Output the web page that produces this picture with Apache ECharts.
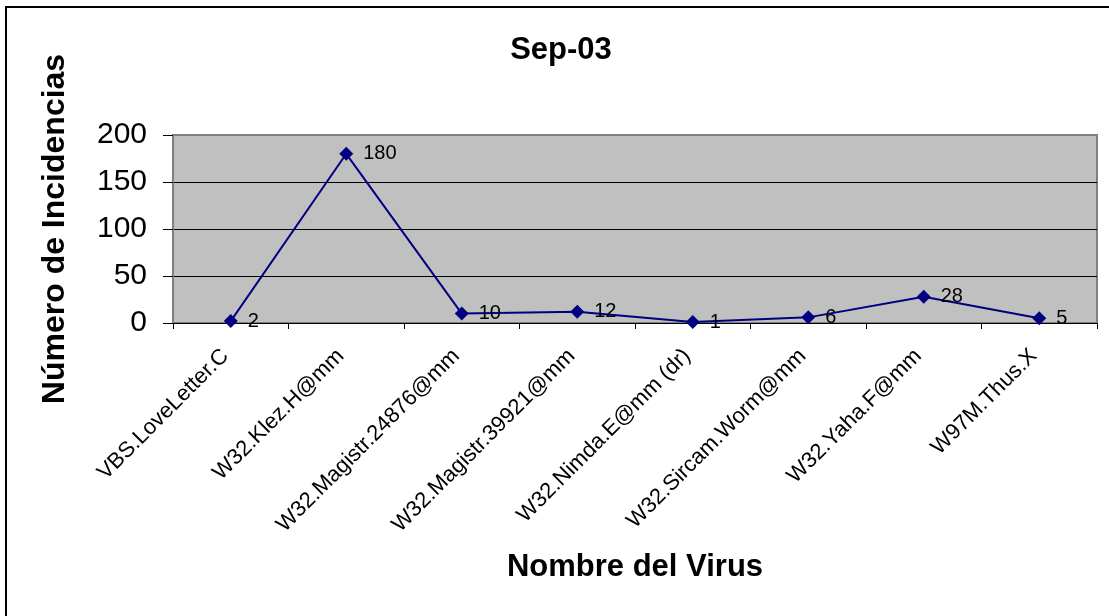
<!DOCTYPE html>
<html>
<head>
<meta charset="utf-8">
<script src="https://cdn.jsdelivr.net/npm/echarts@6/dist/echarts.min.js"></script>
<style>
  html, body { margin: 0; padding: 0; background: #ffffff; }
  #chart { width: 1109px; height: 616px; }
</style>
</head>
<body>
<div id="chart"></div>
<script>
// Incidencias por virus, septiembre 2003
const chartTitle = 'Sep-03';
const virusNames = [
  'VBS.LoveLetter.C',
  'W32.Klez.H@mm',
  'W32.Magistr.24876@mm',
  'W32.Magistr.39921@mm',
  'W32.Nimda.E@mm (dr)',
  'W32.Sircam.Worm@mm',
  'W32.Yaha.F@mm',
  'W97M.Thus.X'
];
const incidencias = [2, 180, 10, 12, 1, 6, 28, 5];
const yTicks = { min: 0, max: 200, interval: 50 };

const FONT = '"Liberation Sans", Arial, sans-serif';

const chart = echarts.init(document.getElementById('chart'), null, { renderer: 'canvas' });

chart.setOption({
  backgroundColor: '#ffffff',
  animation: false,
  title: {
    text: chartTitle,
    left: 556,
    top: 30,
    textAlign: 'center',
    textStyle: { fontFamily: FONT, fontSize: 31, fontWeight: 'bold', color: '#000000' }
  },
  graphic: [
    {
      type: 'rect',
      shape: { x: 6, y: 7, width: 1120, height: 630 },
      style: { fill: 'none', stroke: '#000000', lineWidth: 2 },
      silent: true,
      z: 100
    }
  ],
  grid: {
    left: 173,
    top: 135,
    right: 12,
    bottom: 293,
    show: true,
    backgroundColor: '#C0C0C0',
    borderColor: '#808080',
    borderWidth: 2
  },
  xAxis: {
    type: 'category',
    data: virusNames,
    boundaryGap: true,
    name: 'Nombre del Virus',
    nameLocation: 'middle',
    nameGap: 229,
    nameTextStyle: { fontFamily: FONT, fontSize: 31, fontWeight: 'bold', color: '#000000' },
    axisLine: { show: true, lineStyle: { color: '#000000', width: 1 } },
    axisTick: { show: true, inside: false, length: 6, alignWithLabel: false, lineStyle: { color: '#000000' } },
    axisLabel: {
      interval: 0,
      rotate: 45,
      margin: 24,
      padding: [0, 8, 0, 0],
      fontFamily: FONT,
      fontSize: 22,
      color: '#000000'
    },
    splitLine: { show: false }
  },
  yAxis: {
    type: 'value',
    min: yTicks.min,
    max: yTicks.max,
    interval: yTicks.interval,
    name: 'Número de Incidencias',
    nameLocation: 'middle',
    nameGap: 102,
    nameRotate: 90,
    nameTextStyle: { fontFamily: FONT, fontSize: 32, fontWeight: 'bold', color: '#000000' },
    axisLine: { show: true, lineStyle: { color: '#808080', width: 2 } },
    axisTick: { show: true, inside: false, length: 10, lineStyle: { color: '#000000' } },
    axisLabel: { margin: 26, fontFamily: FONT, fontSize: 30, color: '#000000' },
    splitLine: {
      show: true,
      showMinLine: false,
      showMaxLine: false,
      lineStyle: { color: '#000000', width: 1 }
    }
  },
  series: [
    {
      type: 'line',
      data: incidencias,
      color: '#000080',
      lineStyle: { color: '#000080', width: 2 },
      symbol: 'diamond',
      symbolSize: 14,
      itemStyle: { color: '#000080' },
      label: {
        show: true,
        position: 'right',
        distance: 10,
        fontFamily: FONT,
        fontSize: 20,
        color: '#000000'
      },
      z: 5
    }
  ]
});
</script>
</body>
</html>
